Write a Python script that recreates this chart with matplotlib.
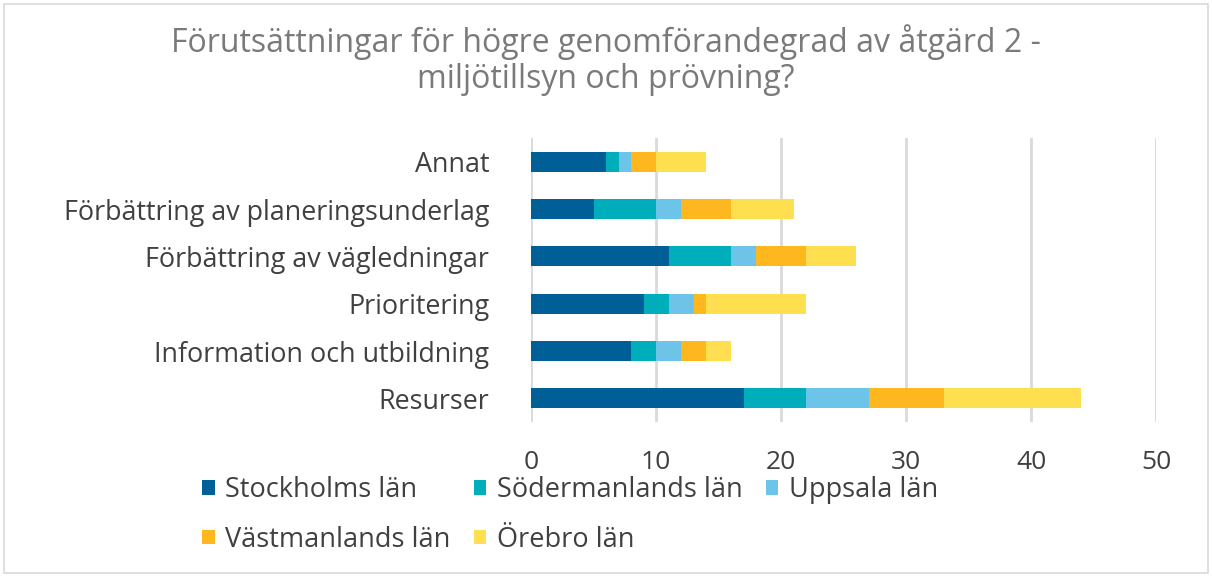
import matplotlib.pyplot as plt
from matplotlib.patches import Rectangle
import numpy as np

# Data (bottom to top as drawn by barh)
categories = ["Resurser", "Information och utbildning", "Prioritering",
              "Förbättring av vägledningar", "Förbättring av planeringsunderlag", "Annat"]
stockholm = [17, 8, 9, 11, 5, 6]
sodermanland = [5, 2, 2, 5, 5, 1]
uppsala = [5, 2, 2, 2, 2, 1]
vastmanland = [6, 2, 1, 4, 4, 2]
orebro = [11, 2, 8, 4, 5, 4]

series_names = ["Stockholms län", "Södermanlands län", "Uppsala län",
                "Västmanlands län", "Örebro län"]
series = [stockholm, sodermanland, uppsala, vastmanland, orebro]
colors = ["#005f96", "#00adbb", "#6cc4e8", "#ffb71f", "#fddf50"]

plt.rcParams['font.family'] = ['Open Sans', 'DejaVu Sans']
text_color = "#404040"

fig = plt.figure(figsize=(12.12, 5.77), dpi=100)
ax = fig.add_axes([531 / 1212, 1 - 422 / 577, 625 / 1212, (422 - 138) / 577])

y = np.arange(len(categories))
left = np.zeros(len(categories))
handles = []
for name, vals, c in zip(series_names, series, colors):
    h = ax.barh(y, vals, left=left, height=0.42, color=c, label=name, zorder=3)
    handles.append(h)
    left += np.array(vals)

ax.set_xlim(0, 50)
ax.set_ylim(-0.5, len(categories) - 0.5)
ax.set_xticks(range(0, 51, 10))
ax.set_yticks(y)
ax.set_yticklabels(categories)
ax.tick_params(axis='both', length=0, colors=text_color)
ax.tick_params(axis='y', pad=30, labelsize=19.4)
ax.tick_params(axis='x', pad=20, labelsize=19)
ax.grid(axis='x', color="#d9d9d9", linewidth=2, zorder=0)
for s in ax.spines.values():
    s.set_visible(False)

fig.text(0.5, 1 - 42 / 577, "Förutsättningar för högre genomförandegrad av åtgärd 2 -",
         ha='center', va='center', fontsize=23, color="#7a7a7a")
fig.text(0.5, 1 - 79 / 577, "miljötillsyn och prövning?",
         ha='center', va='center', fontsize=23, color="#7a7a7a")

# legend filled row by row like the original
order = [0, 3, 1, 4, 2]
leg = fig.legend([handles[i] for i in order], [series_names[i] for i in order],
                 loc='center left', bbox_to_anchor=(178 / 1212, 1 - 515 / 577), ncol=3,
                 frameon=False, fontsize=19.5, handlelength=0.45, handleheight=0.45,
                 handletextpad=0.4, columnspacing=0.85, labelspacing=0.8)
for t in leg.get_texts():
    t.set_color(text_color)

fig.patches.append(Rectangle((4 / 1212, 4 / 577), 1 - 8 / 1212, 1 - 8 / 577,
                             transform=fig.transFigure, fill=False,
                             edgecolor="#d9d9d9", linewidth=1.2))

fig.savefig("out.png", dpi=100)
